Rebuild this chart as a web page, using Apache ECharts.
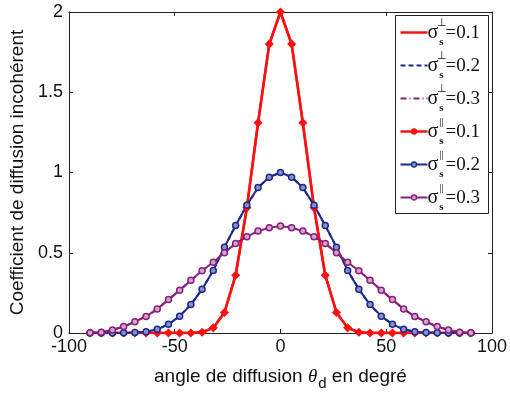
<!DOCTYPE html>
<html>
<head>
<meta charset="utf-8">
<script src="https://cdn.jsdelivr.net/npm/echarts@6/dist/echarts.min.js"></script>
<style>
html,body{margin:0;padding:0;background:#fff;}
#chart{width:510px;height:397px;}
</style>
</head>
<body>
<div id="chart"></div>
<script>
// Scattering angles (degrees) of the sampled points
const angles = [-90, -84.71, -79.41, -74.12, -68.82, -63.53, -58.24, -52.94, -47.65, -42.35, -37.06, -31.76, -26.47, -21.18, -15.88, -10.59, -5.29, 0, 5.29, 10.59, 15.88, 21.18, 26.47, 31.76, 37.06, 42.35, 47.65, 52.94, 58.24, 63.53, 68.82, 74.12, 79.41, 84.71, 90];
// Incoherent scattering coefficient, sigma_s = 0.1
const coefS01 = [0, 0, 0, 0, 0, 0, 0, 0, 0, 0, 0.005, 0.032, 0.128, 0.36, 0.78, 1.31, 1.80, 2.0, 1.80, 1.31, 0.78, 0.36, 0.128, 0.032, 0.005, 0, 0, 0, 0, 0, 0, 0, 0, 0, 0];
// sigma_s = 0.2
const coefS02 = [0, 0, 0, 0.001, 0.003, 0.008, 0.023, 0.054, 0.105, 0.177, 0.272, 0.39, 0.535, 0.67, 0.796, 0.906, 0.971, 1.0, 0.971, 0.906, 0.796, 0.67, 0.535, 0.39, 0.272, 0.177, 0.105, 0.054, 0.023, 0.008, 0.003, 0.001, 0, 0, 0];
// sigma_s = 0.3
const coefS03 = [0.002, 0.005, 0.019, 0.04, 0.07, 0.103, 0.149, 0.208, 0.266, 0.328, 0.388, 0.441, 0.50, 0.558, 0.60, 0.635, 0.655, 0.667, 0.655, 0.635, 0.60, 0.558, 0.50, 0.441, 0.388, 0.328, 0.266, 0.208, 0.149, 0.103, 0.07, 0.04, 0.019, 0.005, 0.002];
const xTicks = [-100, -50, 0, 50, 100];
const yTicks = [0, 0.5, 1, 1.5, 2];
const legendSup = ['⊥', '⊥', '⊥', '||', '||', '||'];
const legendVal = ['=0.1', '=0.2', '=0.3', '=0.1', '=0.2', '=0.3'];

const RED = '#ff1010', BLUE = '#1b2a8c', PURPLE = '#8a1f7c';
const pairs = arr => angles.map((a, i) => [a, arr[i]]);

const chart = echarts.init(document.getElementById('chart'), null, {renderer: 'canvas'});

const axisCommon = {
  axisLine: {show: true, onZero: false, lineStyle: {color: '#222', width: 1}},
  axisTick: {show: true, inside: true, length: 4, lineStyle: {color: '#222'}},
  splitLine: {show: false}
};

const seriesDefs = [
  {name: 'perp01', data: coefS01, color: RED, type: 'solid', width: 2.5, marker: false},
  {name: 'perp02', data: coefS02, color: BLUE, type: [5, 3], width: 2, marker: false},
  {name: 'perp03', data: coefS03, color: PURPLE, type: [6, 3, 1, 3], width: 2, marker: false},
  {name: 'par01', data: coefS01, color: RED, type: 'solid', width: 2.5, marker: 'diamond', size: 7, fill: RED},
  {name: 'par02', data: coefS02, color: BLUE, type: 'solid', width: 2, marker: 'circle', size: 6, fill: '#8c93c4'},
  {name: 'par03', data: coefS03, color: PURPLE, type: 'solid', width: 2, marker: 'circle', size: 6, fill: '#d2a6cc'}
];

const series = seriesDefs.map(d => ({
  name: d.name,
  type: 'line',
  data: pairs(d.data),
  xAxisIndex: 0, yAxisIndex: 0,
  showSymbol: !!d.marker,
  symbol: d.marker || 'none',
  symbolSize: d.size || 0,
  itemStyle: {color: d.fill || d.color, borderColor: d.color, borderWidth: 1.5},
  lineStyle: {color: d.color, width: d.width, type: d.type},
  silent: true,
  animation: false
}));

// Legend drawn as graphic group
const LX = 395, LY = 15, LW = 93, LH = 198;
const legendChildren = [{
  type: 'rect', shape: {x: 0, y: 0, width: LW, height: LH},
  style: {fill: '#fff', stroke: '#222', lineWidth: 1}
}];
seriesDefs.forEach((d, i) => {
  const y = 17 + 33 * i;
  legendChildren.push({
    type: 'line', shape: {x1: 5, y1: y, x2: 32, y2: y},
    style: {stroke: d.color, lineWidth: d.width, lineDash: Array.isArray(d.type) ? d.type : null}
  });
  if (d.marker) {
    legendChildren.push({
      type: 'circle', shape: {cx: 18.5, cy: y, r: 2.5},
      style: {fill: d.fill, stroke: d.color, lineWidth: 1.3}
    });
  }
  legendChildren.push({type: 'text', x: 32, y: y, style: {text: 'σ', font: '20px "Liberation Serif"', fill: '#111', verticalAlign: 'middle', align: 'left'}});
  legendChildren.push({type: 'text', x: 46, y: y - 9, style: {text: legendSup[i], font: '11px "Liberation Serif"', fill: '#111', verticalAlign: 'middle', align: 'center'}});
  legendChildren.push({type: 'text', x: 46, y: y + 10, style: {text: 's', font: 'bold 11px "Liberation Serif"', fill: '#111', verticalAlign: 'middle', align: 'center'}});
  legendChildren.push({type: 'text', x: 50, y: y + 1, style: {text: legendVal[i], font: '19px "Liberation Serif"', fill: '#111', verticalAlign: 'middle', align: 'left'}});
});

chart.setOption({
  animation: false,
  backgroundColor: '#fff',
  grid: {left: 66, right: 18, top: 12, bottom: 64, containLabel: false, show: false},
  xAxis: [
    Object.assign({}, axisCommon, {
      type: 'value', min: -100, max: 100, interval: 50, position: 'bottom',
      axisLabel: {color: '#111', fontSize: 18, fontFamily: 'Liberation Sans', margin: 5,
        formatter: v => xTicks.includes(v) ? String(v) : ''},
      name: '{a|angle de diffusion }{t|θ}{d|d}{a| en degré}',
      nameLocation: 'middle', nameGap: 29,
      nameTextStyle: {rich: {
        a: {fontSize: 19, fontFamily: 'Liberation Sans', color: '#111'},
        t: {fontSize: 19, fontFamily: 'Liberation Serif', fontStyle: 'italic', color: '#111'},
        d: {fontSize: 15, fontFamily: 'Liberation Sans', color: '#111', padding: [14, 0, 0, 1]}
      }}
    }),
    Object.assign({}, axisCommon, {
      type: 'value', min: -100, max: 100, interval: 50, position: 'top',
      axisLabel: {show: false}
    })
  ],
  yAxis: [
    Object.assign({}, axisCommon, {
      type: 'value', min: 0, max: 2, interval: 0.5, position: 'left',
      axisLabel: {color: '#111', fontSize: 18, fontFamily: 'Liberation Sans', margin: 6,
        formatter: v => yTicks.includes(v) ? String(v) : ''},
      name: 'Coefficient de diffusion incohérent',
      nameLocation: 'middle', nameGap: 34,
      nameTextStyle: {fontSize: 19, fontFamily: 'Liberation Sans', color: '#111'}
    }),
    Object.assign({}, axisCommon, {
      type: 'value', min: 0, max: 2, interval: 0.5, position: 'right',
      axisLabel: {show: false}
    })
  ],
  series: series,
  graphic: [{type: 'group', left: LX, top: LY, children: legendChildren, z: 100}]
});
</script>
</body>
</html>
